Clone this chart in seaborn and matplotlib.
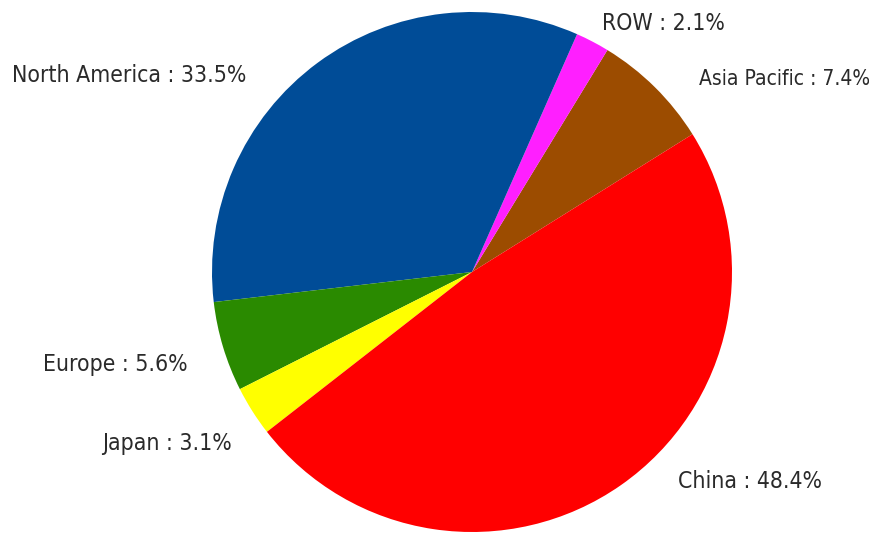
import matplotlib
matplotlib.use("Agg")
import matplotlib.pyplot as plt
import seaborn as sns

# data, counter-clockwise from the China / Asia Pacific edge
REGIONS = ["Asia Pacific", "ROW", "North America", "Europe", "Japan", "China"]
SHARES = [7.4, 2.1, 33.5, 5.6, 3.1, 48.4]
COLORS = ["#9c4c00", "#ff1fff", "#004c97", "#2a8a00", "#ffff00", "#ff0000"]

# label anchors in pixels (left edge, baseline), top-left origin
LABEL_POS = {
    "North America": (12, 82),
    "ROW": (602, 30),
    "Asia Pacific": (699, 85),
    "Europe": (43, 371),
    "Japan": (102, 450),
    "China": (678, 488),
}

W, H = 869, 535

sns.set_style("white")
plt.rcParams['font.family'] = ['DejaVu Sans']

fig = plt.figure(figsize=(W / 100, H / 100), dpi=100)
ax = fig.add_axes([0, 0, 1, 1])

ax.pie(SHARES, colors=COLORS, startangle=32, counterclock=True,
       center=(472, H - 272), radius=260, frame=True,
       wedgeprops=dict(linewidth=0))
ax.set_xlim(0, W)
ax.set_ylim(0, H)
ax.set_aspect('equal')
ax.axis('off')

for name, share in zip(REGIONS, SHARES):
    x, y = LABEL_POS[name]
    # Asia Pacific sits right at the edge, so slightly smaller to fit
    size = 15 if name == "Asia Pacific" else 16.5
    ax.text(x, H - y, f"{name} : {share:.1f}%", ha='left', va='baseline',
            fontsize=size, color='#2a2a2a', fontstretch='condensed')

fig.savefig("out.png", dpi=100)
